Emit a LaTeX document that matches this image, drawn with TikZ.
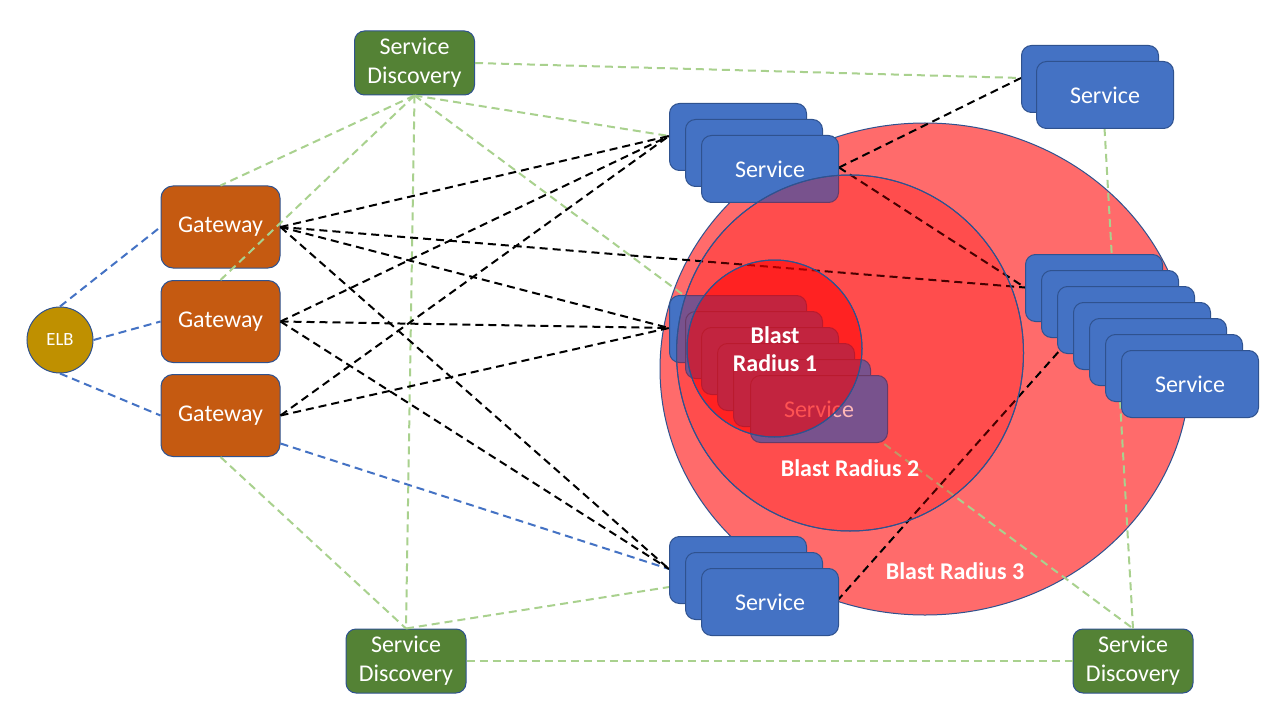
\documentclass[tikz,border=0pt]{standalone}
\usepackage{fontspec}
\setmainfont{Carlito}
\usetikzlibrary{positioning}

\definecolor{svcblue}{HTML}{4472C4}
\definecolor{gwbrown}{HTML}{C55A11}
\definecolor{sdgreen}{HTML}{548235}
\definecolor{elbgold}{HTML}{BF9000}
\definecolor{edgeblue}{HTML}{2F528F}
\definecolor{linkgreen}{HTML}{A9D18E}

\tikzset{
  tile/.style={draw=edgeblue, line width=0.75pt, rounded corners=7.5pt, text=white,
    font=\fontsize{18}{21.6}\selectfont, align=center, inner sep=0pt},
  svc/.style={tile, fill=svcblue, minimum width=102.75pt, minimum height=50.25pt, anchor=north west},
  gw/.style={tile, fill=gwbrown, rounded corners=9pt, minimum width=89.25pt, minimum height=61.5pt},
  sd/.style={tile, fill=sdgreen, minimum width=90pt, minimum height=48pt},
  elb/.style={circle, draw=edgeblue, line width=0.75pt, fill=elbgold, minimum size=49.5pt,
    inner sep=0pt, text=white, font=\fontsize{14}{16}\selectfont},
  link/.style={line width=1.5pt, dash pattern=on 6pt off 3.75pt},
  gwlink/.style={link, black},
  sdlink/.style={link, linkgreen},
  elblink/.style={link, svcblue},
  radius/.style={draw=edgeblue, line width=0.75pt, fill=red},
  blast/.style={text=white, font=\bfseries\fontsize{18}{21}\selectfont, align=center}
}

\begin{document}
\begin{tikzpicture}[x=0.75pt, y=-0.75pt]
  \fill[white] (0,0) rectangle (1280,720);
  \useasboundingbox (0,0) rectangle (1280,720);

  % Outer blast radius sits behind everything
  \fill[radius, fill opacity=0.58] (925,369) ellipse (265 and 246);

  % Entry side: load balancer, gateways, service discovery
  \node[elb] (elb) at (60,340) {ELB};
  \node[gw] (gw1) at (220.5,227) {Gateway};
  \node[gw] (gw2) at (220.5,321.5) {Gateway};
  \node[gw] (gw3) at (220.5,415.5) {Gateway};
  \node[sd] (sd1) at (414.5,63) {Service\\Discovery};
  \node[sd] (sd2) at (406,661) {Service\\Discovery};
  \node[sd] (sd3) at (1133,661) {Service\\Discovery};

  % Anchor points for the stacks (back boxes drawn later)
  \coordinate (topin) at (669,136);
  \coordinate (midin) at (669,328);
  \coordinate (botin) at (669,569);
  \coordinate (botmid) at (685,584.5);
  \coordinate (trin) at (1021,78);
  \coordinate (rtin) at (1025,287.5);
  \coordinate (rtin4) at (1073,335.5);
  \coordinate (topout) at (839,167.5);
  \coordinate (botout) at (837,601);
  \coordinate (trbot) at (1104.5,128);

  % Service discovery links
  \foreach \t in {gw1.north, gw2.north, sd2.north, sd3.north, topin}
    \draw[sdlink] (sd1.south) -- (\t);
  \draw[sdlink] (sd1.east) -- (trin);
  \draw[sdlink] (gw3.south) -- (sd2.north);
  \draw[sdlink] (sd2.north) -- (botmid);
  \draw[sdlink] (sd2.east) -- (sd3.west);
  \draw[sdlink] (trbot) -- (sd3.north);

  % Load balancer links
  \draw[elblink] (elb.north) -- (gw1.west);
  \draw[elblink] (elb.east) -- (gw2.west);
  \draw[elblink] (elb.south) -- (gw3.west);
  \draw[elblink] (gw3.-25) -- (botin);

  % Gateway to service calls
  \foreach \g in {gw1, gw2}
    \foreach \t in {topin, midin, botin}
      \draw[gwlink] (\g.east) -- (\t);
  \draw[gwlink] (gw3.east) -- (topin);
  \draw[gwlink] (gw3.east) -- (midin);
  \draw[gwlink] (gw1.east) -- (rtin);

  % Service to service calls
  \draw[gwlink] (topout) -- (trin);
  \draw[gwlink] (topout) -- (rtin);
  \draw[gwlink] (botout) -- (rtin4);

  % Service stacks
  \foreach \i in {0,1} \node[svc] (top\i) at ({669+16*\i},{103+16*\i}) {};
  \node[svc] (top2) at (701,135) {Service};
  \foreach \i in {0,...,4} \node[svc] (mid\i) at ({669+16*\i},{295+16*\i}) {};
  \node[svc] (mid5) at (750,375) {Service};
  \foreach \i in {0,1} \node[svc] (bot\i) at ({669+16*\i},{536+16*\i}) {};
  \node[svc] (bot2) at (701,568) {Service};
  \node[svc] (tr0) at (1021,45) {};
  \node[svc] (tr1) at (1036,61) {Service};
  \foreach \i in {0,...,5} \node[svc] (rt\i) at ({1025+16*\i},{254+16*\i}) {};
  \node[svc] (rt6) at (1121,350) {Service};

  % Inner blast radii over the services
  \fill[radius, fill opacity=0.28] (850,353) ellipse (173.5 and 178);
  \draw[edgeblue, line width=0.75pt] (850,353) ellipse (173.5 and 178);
  \fill[radius, fill opacity=0.55] (774.5,348.5) ellipse (87.5 and 88.5);
  \draw[edgeblue, line width=0.75pt] (774.5,348.5) ellipse (87.5 and 88.5);

  % Labels
  \node[blast] (br1) at (775,349) {Blast\\Radius 1};
  \node[blast] (br2) at (850,468) {Blast Radius 2};
  \node[blast] (br3) at (955,571) {Blast Radius 3};
\end{tikzpicture}
\end{document}
